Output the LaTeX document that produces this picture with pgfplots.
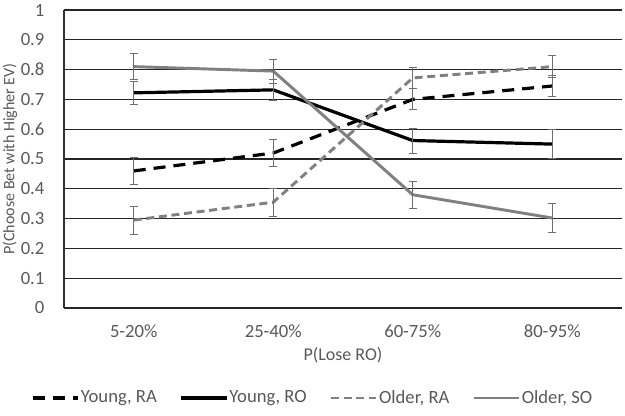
\documentclass[border=0pt]{standalone}
\usepackage{pgfplots}
\pgfplotsset{compat=1.18}
\usepackage{fontspec}
\setmainfont{Carlito}
\definecolor{txt}{RGB}{89,89,89}
\definecolor{oldc}{RGB}{128,128,128}
\definecolor{ebar}{RGB}{110,110,110}
\begin{document}
\fontsize{13.5}{16}\selectfont
\begin{tikzpicture}
\begin{axis}[
  scale only axis,
  width=418.5pt, height=223.5pt,
  xmin=-0.5, xmax=3.5, ymin=0, ymax=1,
  xtick={0,1,2,3},
  xticklabels={5-20\%,25-40\%,60-75\%,80-95\%},
  ytick={0,0.1,...,1},
  yticklabels={0,0.1,0.2,0.3,0.4,0.5,0.6,0.7,0.8,0.9,1},
  /pgf/number format/assume math mode=true,
  axis x line*=bottom, axis y line*=left,
  axis line style={black!80, line width=1pt},
  x axis line style={draw=none},
  major tick length=0pt,
  ymajorgrids, grid style={black!85, line width=0.9pt},
  tick label style={font=\fontsize{14}{16}\selectfont, text=txt},
  xticklabel style={yshift=-8pt},
  yticklabel style={xshift=-10pt},
  xlabel={P(Lose RO)}, ylabel={P(Choose Bet with Higher EV)},
  label style={font=\fontsize{13.5}{16}\selectfont, text=txt},
  xlabel style={at={(0.5,0)}, anchor=center, yshift=-35pt},
  ylabel style={at={(0,0.5)}, anchor=center, yshift=40.5pt, font=\fontsize{12}{14}\selectfont},
  legend columns=4,
  legend style={draw=none, fill=none, at={(0.5,0)}, anchor=center, yshift=-67.5pt, xshift=-23pt,
    font=\fontsize{14}{16}\selectfont, text=txt,
    nodes={inner xsep=1pt},
    /tikz/every even column/.append style={column sep=16pt}},
  legend cell align=left,
  legend image code/.code={\draw[#1] (0pt,0pt) -- (34pt,0pt);},
  error bars/y dir=both, error bars/y explicit,
  error bars/error bar style={ebar, line width=0.75pt, solid},
  error bars/error mark options={rotate=90, mark size=3pt, ebar, line width=0.75pt, solid},
  clip=false,
]
\addplot[black, line width=2.4pt, dash pattern=on 9pt off 6pt, mark=none]
  coordinates {(0,0.46) +- (0,0.045) (1,0.52) +- (0,0.045) (2,0.70) +- (0,0.035) (3,0.745) +- (0,0.035)};
\addlegendentry{Young, RA}
\addplot[black, line width=2.4pt, mark=none]
  coordinates {(0,0.722) +- (0,0.038) (1,0.732) +- (0,0.035) (2,0.562) +- (0,0.042) (3,0.55) +- (0,0.048)};
\addlegendentry{Young, RO}
\addplot[oldc, line width=2.2pt, dash pattern=on 6pt off 3.5pt, mark=none]
  coordinates {(0,0.295) +- (0,0.047) (1,0.355) +- (0,0.047) (2,0.772) +- (0,0.035) (3,0.81) +- (0,0.036)};
\addlegendentry{Older, RA}
\addplot[oldc, line width=2.2pt, mark=none]
  coordinates {(0,0.81) +- (0,0.043) (1,0.795) +- (0,0.04) (2,0.38) +- (0,0.046) (3,0.302) +- (0,0.048)};
\addlegendentry{Older, SO}
\coordinate (SW) at (rel axis cs:0,0);
\coordinate (NE) at (rel axis cs:1,1);
\end{axis}
\pgfresetboundingbox
\path ([shift={(-48pt,-80.25pt)}]SW) rectangle ([shift={(2.25pt,7.5pt)}]NE);
\end{tikzpicture}
\end{document}
